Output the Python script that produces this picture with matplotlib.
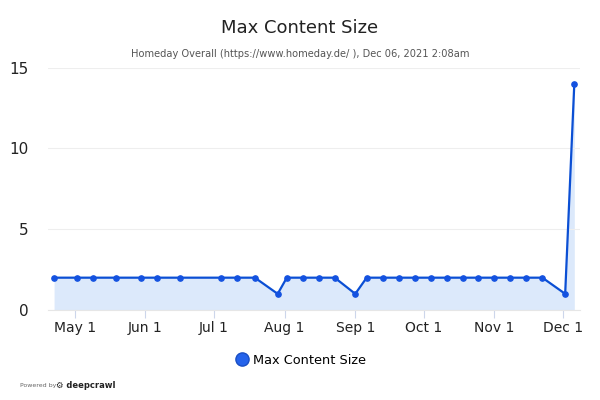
import matplotlib
matplotlib.use("Agg")
import matplotlib.pyplot as plt
import matplotlib.dates as mdates
import numpy as np
from datetime import datetime

dates = ["2021-04-22", "2021-05-02", "2021-05-09", "2021-05-19", "2021-05-30",
         "2021-06-06", "2021-06-16", "2021-07-04", "2021-07-11", "2021-07-19",
         "2021-07-29", "2021-08-02", "2021-08-09", "2021-08-16", "2021-08-23",
         "2021-09-01", "2021-09-06", "2021-09-13", "2021-09-20", "2021-09-27",
         "2021-10-04", "2021-10-11", "2021-10-18", "2021-10-25", "2021-11-01",
         "2021-11-08", "2021-11-15", "2021-11-22", "2021-12-02", "2021-12-06"]
values = [2, 2, 2, 2, 2, 2, 2, 2, 2, 2, 1, 2, 2, 2, 2, 1, 2, 2, 2, 2,
          2, 2, 2, 2, 2, 2, 2, 2, 1, 14]
yticks = [0, 5, 10, 15]
series_name = "Max Content Size"
title = "Max Content Size"
subtitle = "Homeday Overall (https://www.homeday.de/ ), Dec 06, 2021 2:08am"

x = [datetime.strptime(d, "%Y-%m-%d") for d in dates]

fig = plt.figure(figsize=(6, 4), dpi=100)
ax = fig.add_axes([0.08, 0.225, 0.887, 0.606])

line_color = "#0b4fd4"
ax.fill_between(x, values, 0, color="#dce9fb", linewidth=0, zorder=1)
ax.plot(x, values, color=line_color, linewidth=1.6, marker="o", markersize=3.8,
        markerfacecolor="#1452e0", markeredgecolor="#1452e0", zorder=3)

ax.set_ylim(0, 15)
ax.set_yticks(yticks)
ax.set_xlim(mdates.date2num(datetime(2021, 4, 19, 8)), mdates.date2num(datetime(2021, 12, 8, 14)))
ax.xaxis.set_major_locator(mdates.MonthLocator(bymonth=[5, 6, 7, 8, 9, 10, 11, 12]))
ax.xaxis.set_major_formatter(mdates.DateFormatter("%b 1"))

ax.grid(axis="y", color="#eeeeee", linewidth=0.8, zorder=0)
for s in ["top", "right", "left"]:
    ax.spines[s].set_visible(False)
ax.spines["bottom"].set_color("#e6e6e6")
ax.spines["bottom"].set_linewidth(0.8)
ax.tick_params(axis="y", length=0, labelsize=11, pad=14, labelcolor="#222222")
ax.tick_params(axis="x", length=6, color="#ccd6eb", labelsize=10, pad=2, labelcolor="#222222")

fig.text(0.5, 0.93, title, ha="center", va="center", fontsize=13, color="#222222")
fig.text(0.5, 0.866, subtitle, ha="center", va="center", fontsize=7.1, color="#555555")

# legend
ax.plot([], [], marker="o", linestyle="none", markersize=9.5,
        markerfacecolor="#2563eb", markeredgecolor="#1a4fc4", label=series_name)
leg = fig.legend(loc="center", bbox_to_anchor=(0.5, 0.1), frameon=False, fontsize=9.3,
                 handletextpad=0.3, handlelength=1.2)

fig.text(0.033, 0.037, "Powered by", fontsize=4.5, color="#666666", va="center")
fig.text(0.093, 0.037, "\u2699 deepcrawl", fontsize=6, color="#222222", va="center", fontweight="bold")

fig.savefig("out.png", dpi=100)
